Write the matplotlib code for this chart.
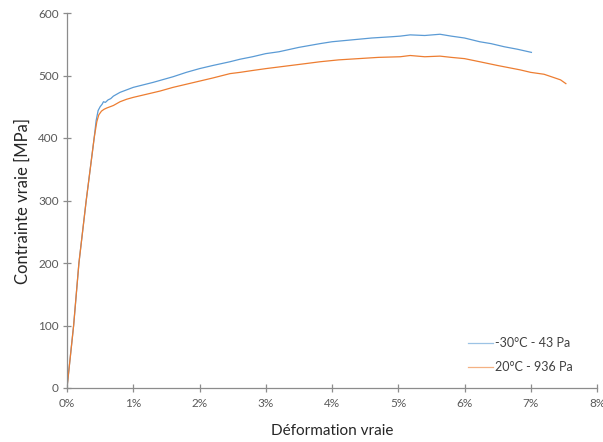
import matplotlib
matplotlib.use("Agg")
import matplotlib.pyplot as plt
from matplotlib.ticker import FuncFormatter, MultipleLocator

# Strain in %, stress in MPa
strain_cold = [0.0, 0.10, 0.18, 0.29, 0.41, 0.44, 0.47, 0.50, 0.53, 0.55, 0.58, 0.62, 0.66,
               0.70, 0.80, 0.90, 1.00, 1.15, 1.30, 1.40, 1.60, 1.80, 2.00, 2.20, 2.46, 2.61,
               2.80, 3.00, 3.20, 3.50, 3.82, 4.00, 4.30, 4.60, 4.90, 5.03, 5.18, 5.40, 5.63,
               5.80, 6.00, 6.23, 6.40, 6.60, 6.80, 7.01]
stress_cold = [0, 100, 200, 300, 400, 428, 444, 450, 454, 458, 457, 461, 463,
               467, 473, 477, 481, 485, 489, 492, 498, 505, 511, 516, 522, 526,
               530, 535, 538, 545, 551, 554, 557, 560, 562, 563, 565, 564, 566,
               563, 560, 554, 551, 546, 542, 537]

strain_room = [0.0, 0.10, 0.18, 0.29, 0.41, 0.45, 0.48, 0.52, 0.56, 0.60, 0.70,
               0.80, 0.90, 1.00, 1.20, 1.40, 1.60, 1.80, 2.00, 2.20, 2.46, 2.61, 2.80,
               3.00, 3.30, 3.60, 3.82, 4.10, 4.40, 4.70, 5.03, 5.18, 5.40, 5.63, 5.80,
               6.00, 6.23, 6.50, 6.84, 7.00, 7.20, 7.34, 7.45, 7.53]
stress_room = [0, 100, 200, 300, 400, 426, 437, 443, 446, 448, 452,
               458, 462, 465, 470, 475, 481, 486, 491, 496, 503, 505, 508,
               511, 515, 519, 522, 525, 527, 529, 530, 532, 530, 531, 529,
               527, 522, 516, 509, 505, 502, 497, 493, 487]

label_cold = "-30°C - 43 Pa"
label_room = "20°C - 936 Pa"
x_label = "Déformation vraie"
y_label = "Contrainte vraie [MPa]"

plt.rcParams['font.family'] = ['Lato', 'DejaVu Sans']

fig = plt.figure(figsize=(6.03, 4.42), dpi=100)
ax = fig.add_axes([67/603, 1-388/442, (597-67)/603, (388-13)/442])

ax.plot(strain_cold, stress_cold, color='#5B9BD5', lw=0.9, label=label_cold)
ax.plot(strain_room, stress_room, color='#ED7D31', lw=0.9, label=label_room)

ax.set_xlim(0, 8)
ax.set_ylim(0, 600)
ax.xaxis.set_major_locator(MultipleLocator(1))
ax.yaxis.set_major_locator(MultipleLocator(100))
ax.xaxis.set_major_formatter(FuncFormatter(lambda v, p: f"{int(round(v))}%"))

axis_color = '#8c8c8c'
for s in ['top', 'right']:
    ax.spines[s].set_visible(False)
for s in ['left', 'bottom']:
    ax.spines[s].set_color(axis_color)
    ax.spines[s].set_linewidth(0.9)
ax.tick_params(axis='both', direction='inout', length=6, width=0.9, color=axis_color,
               labelsize=8.5, labelcolor='#595959')
ax.tick_params(axis='x', pad=4)
ax.tick_params(axis='y', pad=3)

ax.set_xlabel(x_label, fontsize=11, color='#262626', labelpad=11)
ax.set_ylabel(y_label, fontsize=12, color='#262626', labelpad=5)

leg = ax.legend(loc='lower right', bbox_to_anchor=(0.975, 0.01), frameon=False,
                fontsize=9, handlelength=2.0, handletextpad=0.15, labelspacing=0.95)
for t in leg.get_texts():
    t.set_color('#404040')
for h in leg.get_lines():
    h.set_alpha(0.6)

fig.savefig('out.png', dpi=100)
